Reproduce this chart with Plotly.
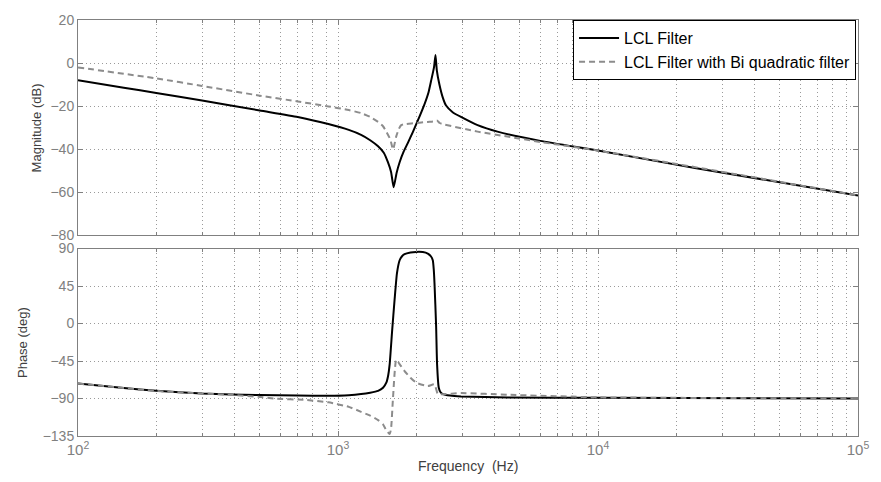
import plotly.graph_objects as go
from plotly.subplots import make_subplots

# ---------------- data ----------------
f_mag_lcl = [100, 150, 200, 300, 500, 700, 918, 1100, 1227, 1330, 1426, 1500, 1556, 1600,
             1637, 1680, 1726, 1790, 1857, 1940, 2017, 2152, 2230, 2281, 2340, 2371, 2400,
             2455, 2530, 2604, 2760, 2972, 3443, 4105, 6000, 10000, 23900, 100000]
mag_lcl = [-8.0, -11.4, -13.9, -17.4, -22.0, -25.0, -28.3, -31.0, -33.3, -35.8, -38.6, -41.6,
           -46.0, -50.5, -57.6, -51.0, -46.0, -41.0, -37.0, -32.0, -27.3, -19.0, -13.5, -8.2,
           -2.0, 3.8, -3.5, -9.9, -16.0, -19.7, -22.8, -25.0, -28.8, -31.8, -36.1, -40.6,
           -48.8, -61.4]

f_mag_bq = [100, 200, 300, 500, 700, 918, 1100, 1227, 1330, 1426, 1490, 1534, 1590, 1628,
            1675, 1715, 1750, 1820, 1913, 2215, 2350, 2400, 2460, 2565, 3443, 4485, 6000,
            10000, 100000]
mag_bq = [-2.0, -7.1, -10.6, -15.1, -17.8, -20.1, -21.8, -23.2, -25.0, -27.3, -29.3, -31.8,
          -35.5, -40.1, -34.0, -30.5, -28.8, -28.3, -28.0, -27.3, -27.0, -26.6, -27.8, -28.5,
          -31.8, -34.1, -36.6, -40.6, -61.4]

f_ph_lcl = [100, 150, 200, 300, 500, 700, 918, 1100, 1227, 1330, 1426, 1490, 1534, 1560,
            1580, 1614, 1651, 1686, 1726, 1760, 1803, 1900, 2000, 2120, 2215, 2280, 2315,
            2335, 2350, 2384, 2405, 2441, 2480, 2528, 2700, 2972, 4485, 10000, 100000]
ph_lcl = [-72.0, -77.5, -80.8, -84.0, -85.9, -86.5, -86.7, -86.0, -84.7, -83.0, -80.8, -77.0,
          -71.0, -62.0, -49.0, -10.0, 29.0, 60.5, 76.0, 80.5, 83.3, 85.3, 86.0, 85.8, 84.0,
          80.5, 76.0, 65.0, 48.8, -2.3, -49.0, -77.0, -82.5, -84.7, -86.5, -87.5, -88.7,
          -89.2, -90.0]

f_ph_bq = [100, 200, 398, 495, 565, 757, 918, 1100, 1227, 1330, 1426, 1490, 1534, 1580,
           1600, 1628, 1675, 1720, 1803, 1900, 2000, 2215, 2350, 2420, 2500, 2972, 4485,
           10000, 100000]
ph_bq = [-72.0, -81.0, -85.9, -87.9, -90.0, -91.8, -94.6, -100.0, -106.0, -110.5, -116.0,
         -121.0, -128.0, -132.6, -126.0, -88.7, -43.5, -48.0, -57.0, -65.0, -71.0, -75.0,
         -73.0, -84.7, -85.0, -83.5, -85.5, -88.5, -90.0]

names = ["LCL Filter", "LCL Filter with Bi quadratic filter"]
mag_ticks = [-80, -60, -40, -20, 0, 20]
ph_ticks = [-135, -90, -45, 0, 45, 90]
decades = [100, 1000, 10000, 100000]
decade_text = ["10<sup>2</sup>", "10<sup>3</sup>", "10<sup>4</sup>", "10<sup>5</sup>"]

# ---------------- figure ----------------
FONT = "Liberation Sans, Arial, Helvetica, sans-serif"
GREY = "#808080"
GRID = "#9a9a9a"
GDASH = "1px,3px"

fig = make_subplots(rows=2, cols=1, shared_xaxes=True, vertical_spacing=0.03)

solid = dict(color="black", width=2, shape="spline", smoothing=0.5)
dashed = dict(color="#8c8c8c", width=2, dash="6px,4px", shape="spline", smoothing=0.5)

fig.add_trace(go.Scatter(x=f_mag_lcl, y=mag_lcl, mode="lines", line=solid, name=names[0],
                         legendgroup="a"), row=1, col=1)
fig.add_trace(go.Scatter(x=f_mag_bq, y=mag_bq, mode="lines", line=dashed, name=names[1],
                         legendgroup="b"), row=1, col=1)
fig.add_trace(go.Scatter(x=f_ph_lcl, y=ph_lcl, mode="lines", line=solid, name=names[0],
                         legendgroup="a", showlegend=False), row=2, col=1)
fig.add_trace(go.Scatter(x=f_ph_bq, y=ph_bq, mode="lines", line=dashed, name=names[1],
                         legendgroup="b", showlegend=False), row=2, col=1)

minor_vals = [m * d for d in decades[:-1] for m in range(2, 10)]

xcommon = dict(type="log", range=[2, 5], tickvals=decades, ticktext=decade_text,
               showgrid=True, gridcolor=GRID, griddash=GDASH, gridwidth=1,
               ticks="inside", ticklen=5, tickcolor=GREY, mirror="allticks",
               showline=True, linecolor=GREY, linewidth=1, zeroline=False,
               tickfont=dict(family=FONT, size=15, color=GREY),
               minor=dict(tickvals=minor_vals, showgrid=True, gridcolor=GRID,
                          griddash=GDASH, gridwidth=1, ticks="inside", ticklen=3,
                          tickcolor=GREY))
fig.update_xaxes(**xcommon)
fig.update_xaxes(showticklabels=False, row=1, col=1)

ycommon = dict(showgrid=True, gridcolor=GRID, griddash=GDASH, gridwidth=1,
               ticks="inside", ticklen=5, tickcolor=GREY, mirror="allticks",
               showline=True, linecolor=GREY, linewidth=1, zeroline=False,
               tickfont=dict(family=FONT, size=14, color=GREY))
fig.update_yaxes(**ycommon)
fig.update_yaxes(range=[-80, 20], tickvals=mag_ticks, row=1, col=1)
fig.update_yaxes(range=[-135, 90], tickvals=ph_ticks, row=2, col=1)

fig.update_layout(
    width=881, height=482,
    margin=dict(l=78, r=19, t=12, b=46),
    paper_bgcolor="white", plot_bgcolor="white",
    font=dict(family=FONT, color="black"),
    xaxis=dict(domain=[0, 1]),
    yaxis=dict(domain=[0.482, 1.0]),
    yaxis2=dict(domain=[0.0, 0.4505]),
    showlegend=True,
    legend=dict(x=0.9975, xanchor="right", y=1.0, yanchor="top",
                bgcolor="white", bordercolor="black", borderwidth=1,
                font=dict(family=FONT, size=16, color="black"),
                tracegroupgap=0, itemwidth=40),
    annotations=[
        dict(text="Magnitude (dB)", xref="paper", yref="paper", x=-0.053, y=0.741,
             textangle=-90, showarrow=False, xanchor="center", yanchor="middle",
             font=dict(family=FONT, size=13, color="#404040")),
        dict(text="Phase (deg)", xref="paper", yref="paper", x=-0.071, y=0.225,
             textangle=-90, showarrow=False, xanchor="center", yanchor="middle",
             font=dict(family=FONT, size=13, color="#404040")),
        dict(text="Frequency  (Hz)", xref="paper", yref="paper", x=0.5, y=-0.072,
             showarrow=False, xanchor="center", yanchor="middle",
             font=dict(family=FONT, size=14, color="#404040")),
    ],
)

fig.write_html("out.html")
